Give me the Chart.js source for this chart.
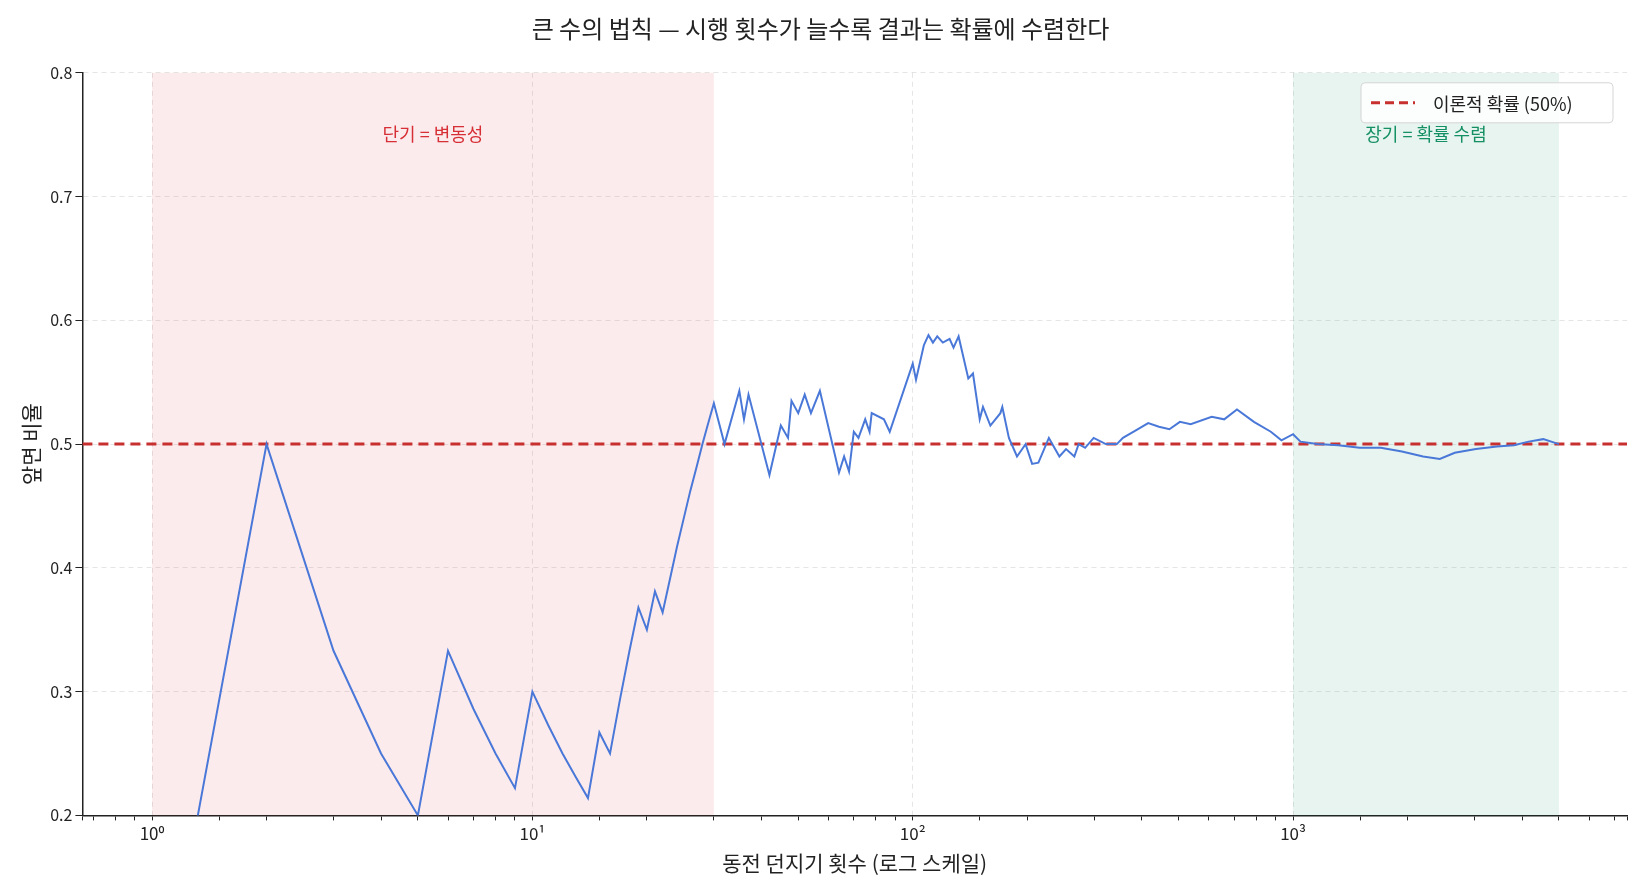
<!DOCTYPE html>
<html><head><meta charset="utf-8">
<script src="https://cdn.jsdelivr.net/npm/chart.js@4.4.1/dist/chart.umd.min.js"></script>
<style>html,body{margin:0;background:#fff}#wrap{width:1635px;height:882px}</style>
</head><body><div id="wrap"><canvas id="c"></canvas></div>
<script>
// 시행 횟수 (n) 과 앞면 비율
const trials = [1,2,3,4,5,6,7,8,9,10,11,12,13,14,15,16,17,18,19,20,21,22,23,24,25,26,27,28,29,30,
  32,35,36,37,42,45,47,48,50,52,54,57,64,66,68,70,72,75,77,78,84,87,100,102,107,110,113,116,120,125,128,132,
  140,144,150,153,160,170,172,179,188,198,206,214,228,243,253,266,273,284,299,322,344,357,381,416,444,473,504,
  538,611,659,712,789,874,932,1000,1046,1158,1315,1496,1701,1933,2197,2431,2661,3025,3436,3810,4160,4548,5000];
const headsRatio = [0,0.5,0.333,0.25,0.2,0.333,0.286,0.25,0.222,0.3,0.273,0.25,0.231,0.214,0.267,0.25,0.294,0.333,0.368,0.35,0.381,0.364,0.391,0.417,0.44,0.462,0.481,0.5,0.517,0.533,
  0.5,0.543,0.52,0.54,0.475,0.515,0.505,0.535,0.525,0.54,0.525,0.543,0.477,0.49,0.478,0.51,0.505,0.52,0.51,0.525,0.52,0.51,0.565,0.552,0.58,0.588,0.582,0.587,0.582,0.585,0.578,0.587,
  0.553,0.557,0.52,0.53,0.515,0.525,0.53,0.505,0.49,0.5,0.484,0.485,0.505,0.49,0.496,0.49,0.5,0.497,0.505,0.5,0.5,0.505,0.51,0.517,0.514,0.512,0.518,
  0.516,0.522,0.52,0.528,0.518,0.51,0.503,0.508,0.502,0.5,0.499,0.497,0.497,0.494,0.49,0.488,0.493,0.496,0.498,0.499,0.502,0.504,0.5];
const theoryX = [0.656, 7550];
const theoryY = [0.5, 0.5];
const shortRange = [1, 30];
const longRange = [1000, 5000];
const yTicks = [0.2,0.3,0.4,0.5,0.6,0.7,0.8];

const font = "'Noto Sans CJK KR','Noto Sans',sans-serif";
const sup = {'0':'⁰','1':'¹','2':'²','3':'³'};
function isMajor(v){ const l = Math.log10(v); return Math.abs(l - Math.round(l)) < 1e-9; }

const bands = {
  id: 'bands',
  beforeDatasetsDraw(chart) {
    const {ctx, chartArea: a, scales: {x}} = chart;
    ctx.save();
    ctx.fillStyle = 'rgba(230,60,80,0.1)';
    let l = x.getPixelForValue(shortRange[0]), r = x.getPixelForValue(shortRange[1]);
    ctx.fillRect(l, a.top, r - l, a.bottom - a.top);
    ctx.fillStyle = 'rgba(20,150,100,0.1)';
    l = x.getPixelForValue(longRange[0]); r = x.getPixelForValue(longRange[1]);
    ctx.fillRect(l, a.top, r - l, a.bottom - a.top);
    ctx.font = '18px ' + font;
    ctx.textAlign = 'center';
    ctx.fillStyle = '#d62f35';
    ctx.fillText('단기 = 변동성', (x.getPixelForValue(1)+x.getPixelForValue(30))/2, a.top + 68);
    ctx.fillStyle = '#159064';
    ctx.fillText('장기 = 확률 수렴', (x.getPixelForValue(1000)+x.getPixelForValue(5000))/2, a.top + 68);
    ctx.restore();
  },
  afterDraw(chart) {
    const {ctx, chartArea: a} = chart;
    const w = 252, h = 40, bx = a.right - w - 14, by = a.top + 10;
    ctx.save();
    ctx.fillStyle = 'rgba(255,255,255,0.85)';
    ctx.strokeStyle = '#d5d5d5';
    ctx.lineWidth = 1;
    ctx.beginPath(); ctx.roundRect(bx, by, w, h, 4); ctx.fill(); ctx.stroke();
    ctx.strokeStyle = '#c8302f'; ctx.lineWidth = 3; ctx.setLineDash([9,5]);
    ctx.beginPath(); ctx.moveTo(bx + 10, by + h/2); ctx.lineTo(bx + 54, by + h/2); ctx.stroke();
    ctx.setLineDash([]);
    ctx.fillStyle = '#222'; ctx.font = '18px ' + font; ctx.textBaseline = 'middle';
    ctx.fillText('이론적 확률 (50%)', bx + 72, by + h/2 + 1);
    ctx.restore();
  }
};

new Chart(document.getElementById('c'), {
  type: 'line',
  data: {
    datasets: [
      { data: trials.map((n, i) => ({x: n, y: headsRatio[i]})), borderColor: '#4a78d8', borderWidth: 2, pointRadius: 0, tension: 0 },
      { data: theoryX.map((v, i) => ({x: v, y: theoryY[i]})), borderColor: '#c8302f', borderWidth: 3, borderDash: [10,6], pointRadius: 0 }
    ]
  },
  options: {
    responsive: true, maintainAspectRatio: false, animation: false,
    layout: { padding: { left: 14, right: 8, top: 10, bottom: 2 } },
    plugins: {
      legend: { display: false }, tooltip: { enabled: false },
      title: { display: true, text: '큰 수의 법칙 — 시행 횟수가 늘수록 결과는 확률에 수렴한다', color: '#222',
        font: { family: font, size: 24, weight: 'normal' }, padding: { top: 4, bottom: 30 } }
    },
    scales: {
      x: {
        type: 'logarithmic', min: theoryX[0], max: theoryX[1],
        border: { color: '#222', width: 1.5, dash: [5,4] },
        grid: { color: c => isMajor(c.tick.value) ? 'rgba(0,0,0,0.1)' : 'rgba(0,0,0,0)',
          tickColor: '#222', tickLength: 5 },
        ticks: { autoSkip: false, maxRotation: 0, color: '#222', font: { family: font, size: 17 },
          callback: v => isMajor(v) ? '10' + sup[String(Math.round(Math.log10(v)))] : '' },
        title: { display: true, text: '동전 던지기 횟수 (로그 스케일)', color: '#222', font: { family: font, size: 21 } }
      },
      y: {
        min: 0.2, max: 0.8,
        afterBuildTicks: s => { s.ticks = yTicks.map(v => ({value: v})); },
        border: { color: '#222', width: 1.5, dash: [5,4] },
        grid: { color: 'rgba(0,0,0,0.1)', tickColor: '#222', tickLength: 7 },
        ticks: { color: '#222', font: { family: font, size: 16 }, callback: v => v.toFixed(1) },
        title: { display: true, text: '앞면 비율', color: '#222', font: { family: font, size: 21 } }
      }
    }
  },
  plugins: [bands]
});
</script></body></html>
